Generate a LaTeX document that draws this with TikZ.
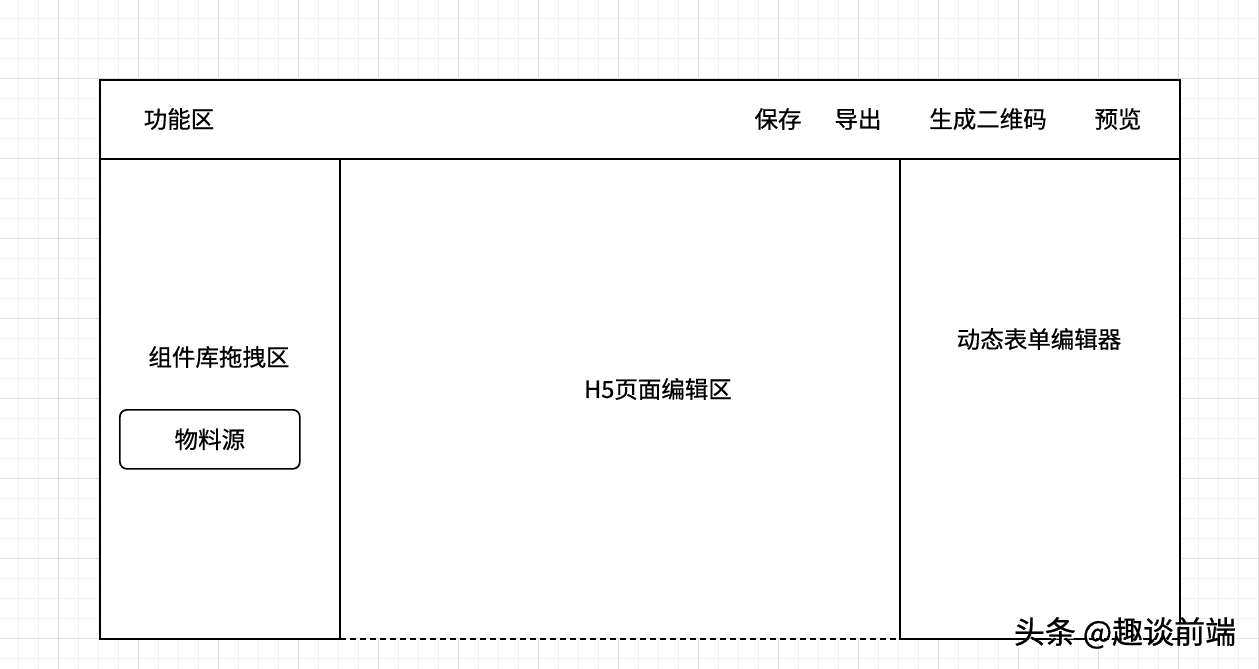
\documentclass[tikz,border=0pt]{standalone}
\usepackage{fontspec}
\setmainfont{Noto Sans CJK SC}
\newfontfamily\labelfont{Noto Sans CJK SC}[FakeBold=0.6]
\definecolor{gridminor}{HTML}{F2F2F2}
\definecolor{gridmajor}{HTML}{DDDDDD}
\begin{document}
\begin{tikzpicture}[x=1pt,y=-1pt,
  lbl/.style={font=\labelfont\fontsize{23.5}{25}\selectfont, inner sep=0pt},
  frame/.style={draw=black, line width=1.7pt, inner sep=0pt, anchor=north west},
  dashframe/.style={frame, line width=2pt, dash pattern=on 6pt off 4pt},
  wm/.style={font=\labelfont\fontsize{31}{33}\selectfont, inner sep=0pt}
]
\useasboundingbox (0,0) rectangle (1259,669);
\fill[white] (0,0) rectangle (1259,669);
% grid
\foreach \k in {0,...,63} {
  \draw[gridminor, line width=0.8pt] ({-1.3+20*\k},0) -- ({-1.3+20*\k},669);
}
\foreach \k in {0,...,34} {
  \draw[gridminor, line width=0.8pt] (0,{-1.7+20*\k}) -- (1259,{-1.7+20*\k});
}
\foreach \k in {0,...,15} {
  \draw[gridmajor, line width=0.8pt] ({58.7+80*\k},0) -- ({58.7+80*\k},669);
}
\foreach \k in {0,...,8} {
  \draw[gridmajor, line width=0.8pt] (0,{-1.7+80*\k}) -- (1259,{-1.7+80*\k});
}
% panels
\node[fill=white, inner sep=0pt, anchor=north west, minimum width=1080pt, minimum height=559pt] (outer) at (99,79) {};
\node[dashframe, minimum width=560pt, minimum height=480pt] (mid) at (339,158) {};
\node[frame, minimum width=240pt, minimum height=480pt] (left) at (99,158) {};
\node[frame, minimum width=280pt, minimum height=480pt] (right) at (899,158) {};
\node[frame, minimum width=1080pt, minimum height=79pt] (header) at (99,79) {};
\node[frame, rounded corners=7pt, minimum width=180pt, minimum height=59pt] (mat) at (119,409) {};
% labels
\node[lbl] (t1) at (179,119) {功能区};
\node[lbl] (t2) at (778,119) {保存};
\node[lbl] (t3) at (858,119) {导出};
\node[lbl] (t4) at (988,119) {生成二维码};
\node[lbl] (t5) at (1118,119) {预览};
\node[lbl] (t6) at (219,357) {组件库拖拽区};
\node[lbl] (t7) at (mat.center) {物料源};
\node[lbl] (t8) at (658,389) {H5页面编辑区};
\node[lbl] (t9) at (1039,339) {动态表单编辑器};
% watermark
\node[wm, text=white] (wmshadow) at (1127,635) {头条 @趣谈前端};
\node[wm, text=black] (wm) at (1125,633) {头条 @趣谈前端};
\end{tikzpicture}
\end{document}
